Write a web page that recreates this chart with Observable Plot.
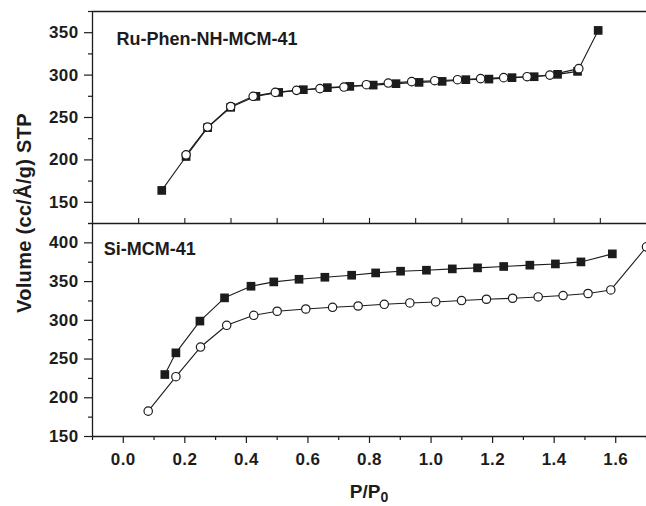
<!DOCTYPE html>
<html>
<head>
<meta charset="utf-8">
<script src="https://cdn.jsdelivr.net/npm/d3@7"></script>
<script src="https://cdn.jsdelivr.net/npm/@observablehq/plot@0.6"></script>
<style>
  html, body { margin: 0; padding: 0; background: #fff; }
  #wrap { position: relative; width: 646px; height: 506px; overflow: hidden; font-family: "Liberation Sans", Arial, sans-serif; }
  #wrap > svg { position: absolute; left: 0; }
  g[aria-label$="tick label"] text { letter-spacing: 0.4px; }
</style>
</head>
<body>
<div id="wrap"></div>
<script>
// ---- data ----
const ruSquareX = [0.125, 0.204, 0.274, 0.349, 0.431, 0.505, 0.585, 0.663, 0.736, 0.812, 0.886, 0.961, 1.036, 1.113, 1.188, 1.263, 1.335, 1.411, 1.476, 1.543];
const ruSquareV = [164, 204, 238, 262, 275, 279.6, 282.8, 285.2, 286.7, 288.2, 289.9, 291.4, 292.6, 294.6, 295.3, 297, 298.1, 300.9, 304.4, 352.7];
const ruCircleX = [0.204, 0.274, 0.349, 0.422, 0.494, 0.563, 0.639, 0.717, 0.790, 0.861, 0.937, 1.012, 1.086, 1.161, 1.236, 1.312, 1.386, 1.480];
const ruCircleV = [206, 238.7, 263, 275, 279.6, 282, 284, 285.9, 288.7, 290.6, 292.3, 293.4, 294.6, 295.8, 297, 298.1, 300, 307.6];

const siSquareX = [0.135, 0.171, 0.249, 0.329, 0.415, 0.489, 0.571, 0.655, 0.742, 0.820, 0.901, 0.985, 1.069, 1.151, 1.236, 1.321, 1.404, 1.487, 1.589];
const siSquareV = [230, 258, 299, 329, 344, 349.6, 353, 355.6, 358.2, 361.2, 363.4, 364.7, 366.4, 367.7, 369.5, 371.2, 372.8, 375.4, 385.8];
const siCircleX = [0.081, 0.171, 0.251, 0.336, 0.424, 0.500, 0.593, 0.680, 0.763, 0.848, 0.931, 1.015, 1.099, 1.180, 1.265, 1.348, 1.429, 1.510, 1.584, 1.700];
const siCircleV = [182.7, 227.2, 265.5, 293.6, 306.5, 311.7, 314.6, 316.8, 318.5, 320.7, 322.4, 323.7, 325.5, 327.2, 328.5, 330.2, 332, 334.6, 339.2, 394.8];

// ---- ticks and labels ----
const xTicks = [0, 0.2, 0.4, 0.6, 0.8, 1.0, 1.2, 1.4, 1.6];
const xMinorTicks = [-0.1, 0.1, 0.3, 0.5, 0.7, 0.9, 1.1, 1.3, 1.5, 1.7];
const ruInnerTicks = [0.05, 0.2, 0.35, 0.5, 0.65, 0.8, 0.95, 1.1, 1.25, 1.4, 1.55];
const ruYTicks = [150, 200, 250, 300, 350];
const ruYMinor = [125, 175, 225, 275, 325, 375];
const siYTicks = [150, 200, 250, 300, 350, 400];
const siYMinor = [175, 225, 275, 325, 375, 425];
const ruDomain = [125, 375];
const siDomain = [150, 425];
const xDomain = [-0.1, 1.7];
const ruLabel = "Ru-Phen-NH-MCM-41";
const siLabel = "Si-MCM-41";
const yLabel = "Volume (cc/Å/g) STP";

const ink = "#1c1c1c";
const font = "'Liberation Sans', Arial, sans-serif";
const zip = (xs, vs) => xs.map((x, i) => ({x, v: vs[i]}));

const ruSq = zip(ruSquareX, ruSquareV), ruCi = zip(ruCircleX, ruCircleV);
const siSq = zip(siSquareX, siSquareV), siCi = zip(siCircleX, siCircleV);

function seriesMarks(sq, ci) {
  return [
    Plot.line(sq, {x: "x", y: "v", stroke: ink, strokeWidth: 1.1}),
    Plot.line(ci, {x: "x", y: "v", stroke: ink, strokeWidth: 1.1}),
    Plot.dot(sq, {x: "x", y: "v", symbol: "square", r: 4.9, fill: ink, stroke: "none"}),
    Plot.dot(ci, {x: "x", y: "v", r: 4.2, fill: "white", stroke: ink, strokeWidth: 1.2})
  ];
}

const common = {
  width: 646, marginLeft: 92, marginRight: 0,
  style: {background: "transparent", overflow: "visible", fontFamily: font, color: ink}
};

const topPlot = Plot.plot({
  ...common,
  height: 226, marginTop: 11, marginBottom: 3,
  x: {domain: xDomain, axis: null},
  y: {domain: ruDomain, axis: null},
  marks: [
    Plot.axisY(ruYMinor, {tickSize: 4, tickFormat: () => "", stroke: ink, strokeWidth: 1.2, label: null}),
    Plot.axisY(ruYTicks, {tickSize: 8, tickPadding: 6, fontSize: 17, fontWeight: "bold", fill: ink, stroke: ink, strokeWidth: 1.2, label: null}),
    Plot.ruleX(ruInnerTicks, {y1: ruDomain[0], y2: ruDomain[0] + 6, stroke: ink, strokeWidth: 1.1}),
    Plot.ruleY([ruDomain[1]], {stroke: ink, strokeWidth: 1.3}),
    Plot.ruleX([xDomain[0]], {stroke: ink, strokeWidth: 1.3}),
    ...seriesMarks(ruSq, ruCi),
    Plot.text([ruLabel], {frameAnchor: "top-left", dx: 24, dy: 20.7, lineAnchor: "top", textAnchor: "start", fontSize: 18, fontWeight: "bold", fill: ink})
  ]
});
topPlot.style.top = "0px";

const bottomPlot = Plot.plot({
  ...common,
  height: 293, marginTop: 10, marginBottom: 70,
  x: {domain: xDomain, axis: null},
  y: {domain: siDomain, axis: null},
  marks: [
    Plot.axisY(siYMinor, {tickSize: 4, tickFormat: () => "", stroke: ink, strokeWidth: 1.2, label: null}),
    Plot.axisY(siYTicks, {tickSize: 8, tickPadding: 6, fontSize: 17, fontWeight: "bold", fill: ink, stroke: ink, strokeWidth: 1.2, label: null}),
    Plot.axisX(xMinorTicks, {tickSize: 4, tickFormat: () => "", stroke: ink, strokeWidth: 1.2, label: null}),
    Plot.axisX(xTicks, {tickSize: 7, tickPadding: 9.5, tickFormat: d3.format(".1f"), fontSize: 17, fontWeight: "bold", fill: ink, stroke: ink, strokeWidth: 1.2, label: null}),
    Plot.ruleY([siDomain[1]], {stroke: ink, strokeWidth: 1.3}),
    Plot.ruleY([siDomain[0]], {stroke: ink, strokeWidth: 1.3}),
    Plot.ruleX([xDomain[0]], {stroke: ink, strokeWidth: 1.3}),
    ...seriesMarks(siSq, siCi),
    Plot.text([siLabel], {frameAnchor: "top-left", dx: 11.3, dy: 18.7, lineAnchor: "top", textAnchor: "start", fontSize: 18, fontWeight: "bold", fill: ink})
  ]
});
bottomPlot.style.top = "213px";

const wrap = document.getElementById("wrap");
wrap.appendChild(topPlot);
wrap.appendChild(bottomPlot);

// axis titles
const ns = "http://www.w3.org/2000/svg";
const over = document.createElementNS(ns, "svg");
over.setAttribute("width", 646); over.setAttribute("height", 506);
over.style.top = "0px"; over.style.pointerEvents = "none";
const yt = document.createElementNS(ns, "text");
yt.setAttribute("transform", "translate(30.5,213) rotate(-90)");
yt.setAttribute("text-anchor", "middle");
yt.setAttribute("font-family", font); yt.setAttribute("font-weight", "bold");
yt.setAttribute("font-size", 20); yt.setAttribute("fill", ink);
yt.setAttribute("letter-spacing", "0.3");
yt.textContent = yLabel;
over.appendChild(yt);
const xt = document.createElementNS(ns, "text");
xt.setAttribute("x", 369); xt.setAttribute("y", 498);
xt.setAttribute("text-anchor", "middle");
xt.setAttribute("font-family", font); xt.setAttribute("font-weight", "bold");
xt.setAttribute("font-size", 19); xt.setAttribute("fill", ink);
const t1 = document.createElementNS(ns, "tspan"); t1.textContent = "P/P";
const t2 = document.createElementNS(ns, "tspan"); t2.textContent = "0";
t2.setAttribute("font-size", 14); t2.setAttribute("dy", 4);
xt.appendChild(t1); xt.appendChild(t2);
over.appendChild(xt);
wrap.appendChild(over);
</script>
</body>
</html>
